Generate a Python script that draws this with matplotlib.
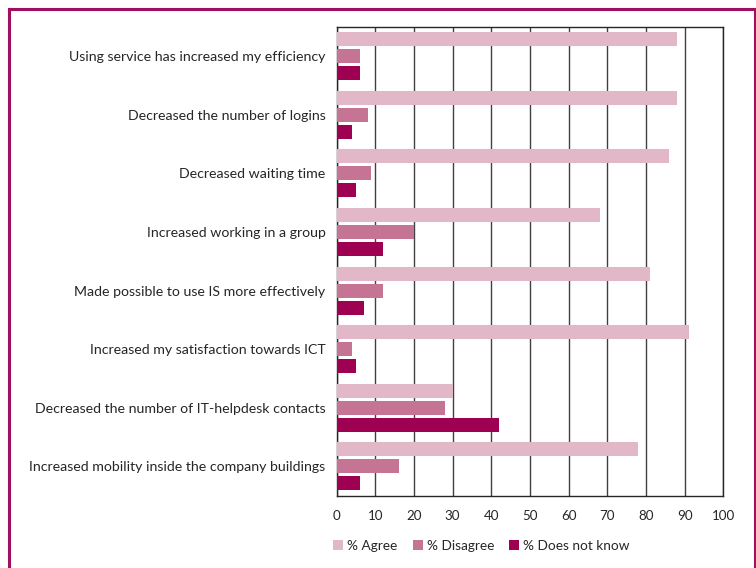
import matplotlib.pyplot as plt
from matplotlib.lines import Line2D
import numpy as np

plt.rcParams['font.family'] = ['Lato', 'DejaVu Sans']

categories = ['Using service has increased my efficiency',
              'Decreased the number of logins',
              'Decreased waiting time',
              'Increased working in a group',
              'Made possible to use IS more effectively',
              'Increased my satisfaction towards ICT',
              'Decreased the number of IT-helpdesk contacts',
              'Increased mobility inside the company buildings']
agree = [88, 88, 86, 68, 81, 91, 30, 78]
disagree = [6, 8, 9, 20, 12, 4, 28, 16]
dont_know = [6, 4, 5, 12, 7, 5, 42, 6]
series_names = ['% Agree', '% Disagree', '% Does not know']
colors = ['#E2B8C8', '#C57494', '#9E0052']

fig = plt.figure(figsize=(7.56, 5.68), dpi=100)
ax = fig.add_axes([336.7/756, 72.3/568, 386.6/756, 469/568])

y = np.arange(len(categories))
h = 0.239
step = 0.29
for k, (vals, name, col) in enumerate(zip([agree, disagree, dont_know], series_names, colors)):
    ax.barh(y + (k - 1) * step, vals, height=h, color=col, label=name, zorder=3)

ax.set_xlim(0, 100)
ax.set_ylim(len(categories) - 0.5, -0.5)
ax.set_xticks(range(0, 101, 10))
ax.set_yticks(y)
ax.set_yticklabels(categories, fontsize=10.2, color='#262626')
ax.tick_params(axis='y', length=0, pad=8)
ax.tick_params(axis='x', length=0, pad=10, labelsize=9.6, labelcolor='#262626')
ax.grid(axis='x', color='#404040', lw=1.0, zorder=1)
for s in ax.spines.values():
    s.set_color('#262626')
    s.set_linewidth(1.0)

fig.legend(loc='center left', bbox_to_anchor=(333/756, 1 - 546/568), ncol=3, frameon=False,
           handlelength=0.75, handleheight=0.75, handletextpad=0.3, columnspacing=1.1,
           borderpad=0, borderaxespad=0, prop={'size': 9.8})
for t in fig.legends[0].get_texts():
    t.set_color('#262626')

# magenta frame around the figure
bc = '#9E0F5E'
W, H = 756, 568
fig.add_artist(Line2D([9/W, 9/W], [0, 1 - 8.5/H], color=bc, lw=2.2, transform=fig.transFigure))
fig.add_artist(Line2D([9/W, 754.5/W], [1 - 8.5/H, 1 - 8.5/H], color=bc, lw=2.2, transform=fig.transFigure))
fig.add_artist(Line2D([754.5/W, 754.5/W], [0, 1 - 8.5/H], color=bc, lw=2.2, transform=fig.transFigure))

fig.savefig('out.png', dpi=100)
